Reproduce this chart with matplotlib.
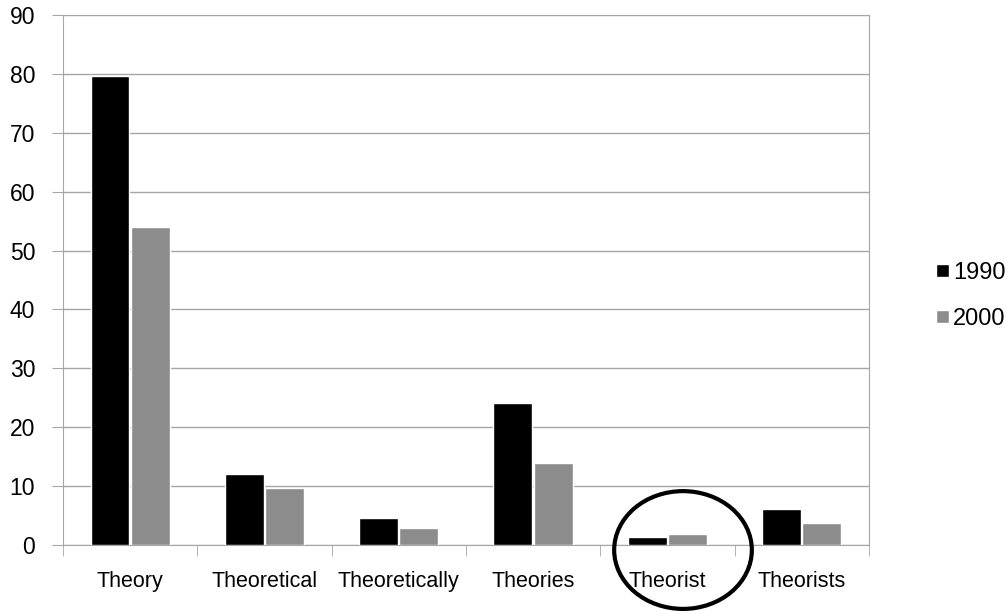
import numpy as np
import matplotlib.pyplot as plt
from matplotlib.patches import Ellipse

plt.rcParams['font.family'] = ['Liberation Sans', 'DejaVu Sans']

words = ['Theory', 'Theoretical', 'Theoretically', 'Theories', 'Theorist', 'Theorists']
y1990 = [79.6, 12.0, 4.6, 24.1, 1.35, 6.1]
y2000 = [54.0, 9.6, 2.9, 13.9, 1.8, 3.7]

fig = plt.figure(figsize=(10.08, 6.11), dpi=100)
ax = fig.add_axes([0.0625, 0.108, 0.7995, 0.8675])

x = np.arange(len(words))
w = 0.29
ax.bar(x - 0.15, y1990, w, color='black', edgecolor='white', linewidth=1, label='1990', zorder=3)
ax.bar(x + 0.15, y2000, w, color='#8c8c8c', edgecolor='white', linewidth=1, label='2000', zorder=3)

ax.set_xlim(-0.5, len(words) - 0.5)
ax.set_ylim(0, 90)
ax.set_yticks(np.arange(0, 91, 10))
ax.yaxis.grid(True, color='#a6a6a6', linewidth=1)
ax.set_axisbelow(True)

gray = '#a6a6a6'
for s in ['left', 'right', 'bottom']:
    ax.spines[s].set_color(gray)
ax.spines['top'].set_visible(False)

ax.set_xticks(x)
ax.set_xticklabels(words)
ax.set_xticks(np.arange(len(words) + 1) - 0.5, minor=True)
ax.tick_params(axis='x', which='major', length=0, pad=19, labelsize=15.5)
ax.tick_params(axis='x', which='minor', length=8, color=gray, direction='out')
ax.tick_params(axis='y', length=8, color=gray, pad=12, labelsize=16.5)

# circle around the Theorist group
ax.add_patch(Ellipse((4.116, -0.85), 1.025, 20, fill=False, edgecolor='black',
                     linewidth=3, clip_on=False, zorder=5))

ax.legend(loc='center left', bbox_to_anchor=(1.072, 0.47), frameon=False,
          fontsize=17, handlelength=0.55, handleheight=0.5, handletextpad=0.15,
          labelspacing=1.0, borderaxespad=0)

fig.savefig('out.png', dpi=100)
